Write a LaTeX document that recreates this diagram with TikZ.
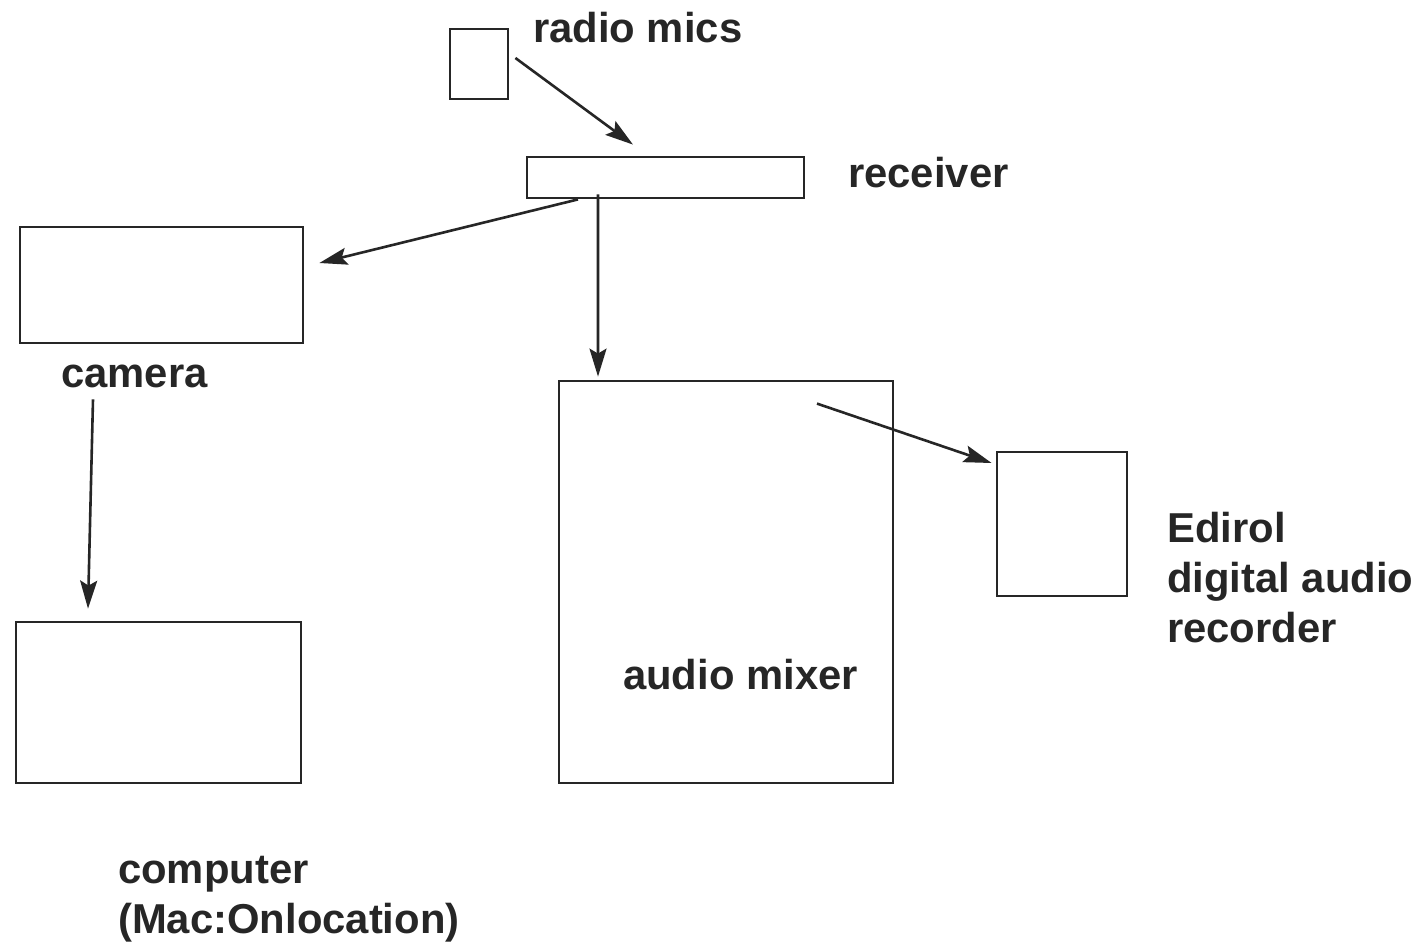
\documentclass[tikz,border=0pt]{standalone}
\usepackage{fontspec}
\setmainfont{Liberation Sans}
\usetikzlibrary{arrows.meta}
\begin{document}
\begin{tikzpicture}[x=1bp,y=-1bp,
  box/.style={draw=black!85, line width=2.8bp, inner sep=0, minimum width=#1},
  arr/.style={draw=black!85, line width=2.6bp, -{Stealth[length=28bp,width=17bp,inset=5bp]}},
  lbl/.style={inner sep=0, anchor=base west, align=left, font=\fontsize{41.8bp}{50bp}\selectfont\bfseries, text=black!85}]
\useasboundingbox[fill=white] (0,0) rectangle (1419,945);
\node[box=58bp, minimum height=70bp] (mics) at (479,64) {};
\node[box=277bp, minimum height=41bp] (rec) at (665.5,177.5) {};
\node[box=283bp, minimum height=116bp] (cam) at (161.5,285) {};
\node[box=285bp, minimum height=161bp] (comp) at (158.5,702.5) {};
\node[box=334bp, minimum height=402bp] (mix) at (726,582) {};
\node[box=130bp, minimum height=144bp] (edi) at (1062,524) {};

\node[lbl] (tmics) at (533,42) {radio mics};
\node[lbl] (trec) at (848,187) {receiver};
\node[lbl] (tcam) at (61,387) {camera};
\node[lbl] (tmix) at (623,689) {audio mixer};
\node[lbl] (tedi) at (1167,642) {Edirol\\digital audio\\recorder};
\node[lbl] (tcomp) at (118,933) {computer\\(Mac:Onlocation)};

\draw[arr] ([xshift=6bp,yshift=6bp]mics.east) -- ([xshift=-32.5bp,yshift=11bp]rec.north);
\draw[arr] ([xshift=-87.5bp]rec.south) -- ([xshift=15bp,yshift=22bp]cam.east);
\draw[arr] ([xshift=-67.5bp,yshift=5bp]rec.south) -- ([xshift=-128bp,yshift=3bp]mix.north);
\draw[arr] ([xshift=-68.5bp,yshift=-55bp]cam.south) -- ([xshift=-70.5bp,yshift=12bp]comp.north);
\draw[arr] ([xshift=91bp,yshift=-24bp]mix.north) -- ([xshift=-4bp,yshift=61bp]edi.west);
\end{tikzpicture}
\end{document}
